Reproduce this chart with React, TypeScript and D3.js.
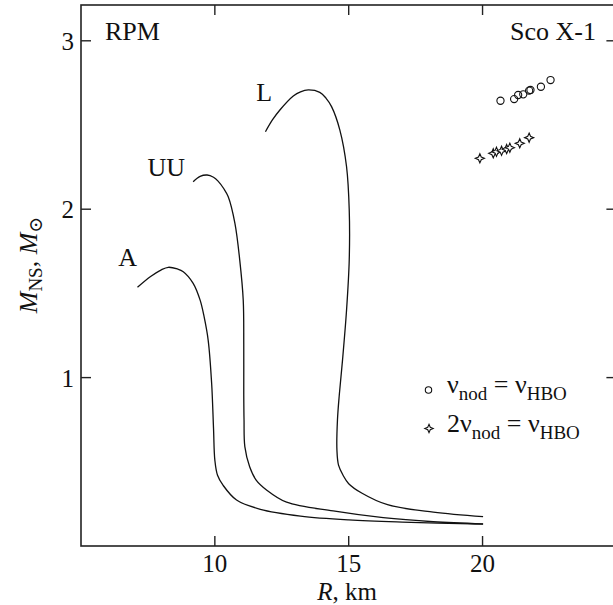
import React from 'react';
import * as d3 from 'd3';

const xTicks = [10, 15, 20];
const yTicks = [1, 2, 3];

const curveA_R = [7.11, 7.6, 8.0, 8.26, 8.6, 8.82, 9.19, 9.45, 9.6, 9.75, 9.88, 9.95, 10.0, 10.1, 10.31, 10.81, 11.7, 13.2, 15.0, 17.0, 20.02];
const curveA_M = [1.536, 1.6, 1.64, 1.655, 1.645, 1.629, 1.56, 1.46, 1.36, 1.223, 0.966, 0.7, 0.51, 0.42, 0.36, 0.273, 0.218, 0.178, 0.155, 0.142, 0.13];

const curveUU_R = [9.19, 9.45, 9.71, 9.95, 10.12, 10.33, 10.5, 10.75, 10.93, 11.06, 11.08, 11.08, 11.09, 11.12, 11.3, 11.55, 11.93, 12.68, 14.42, 16.29, 18.16, 20.02];
const curveUU_M = [2.163, 2.195, 2.203, 2.19, 2.167, 2.123, 2.074, 1.916, 1.698, 1.461, 1.2, 0.9, 0.75, 0.59, 0.471, 0.39, 0.333, 0.26, 0.208, 0.168, 0.144, 0.131];

const curveL_R = [11.89, 12.15, 12.43, 12.93, 13.2, 13.49, 13.92, 14.15, 14.36, 14.67, 14.92, 15.02, 15.02, 14.92, 14.77, 14.65, 14.58, 14.56, 14.62, 14.79, 15.0, 15.5, 16.45, 18.16, 20.02];
const curveL_M = [2.46, 2.53, 2.589, 2.672, 2.697, 2.708, 2.694, 2.66, 2.609, 2.47, 2.252, 1.995, 1.698, 1.401, 1.105, 0.9, 0.748, 0.57, 0.48, 0.42, 0.37, 0.313, 0.245, 0.201, 0.174];

const circleR = [20.67, 21.18, 21.33, 21.52, 21.74, 21.79, 22.18, 22.54];
const circleM = [2.644, 2.654, 2.678, 2.682, 2.704, 2.708, 2.727, 2.767];

const starR = [19.9, 20.4, 20.52, 20.71, 20.9, 21.02, 21.39, 21.74];
const starM = [2.302, 2.332, 2.341, 2.347, 2.357, 2.365, 2.391, 2.425];

const curveLabels = [
  { text: 'A', R: 6.39, M: 1.66 },
  { text: 'UU', R: 7.48, M: 2.2 },
  { text: 'L', R: 11.55, M: 2.64 },
];

const FONT = '"Liberation Serif", "Times New Roman", "DejaVu Serif", serif';

function starPath(cx: number, cy: number, r: number) {
  const w = r * 0.3;
  const pts: [number, number][] = [
    [0, -r], [w, -w], [r, 0], [w, w], [0, r], [-w, w], [-r, 0], [-w, -w],
  ];
  return 'M' + pts.map(p => `${cx + p[0]},${cy + p[1]}`).join('L') + 'Z';
}

export default function App() {
  const x = d3.scaleLinear().domain([5, 25]).range([81, 616.4]);
  const y = d3.scaleLinear().domain([0, 3]).range([546, 40.8]);
  const top = 5;
  const left = x(5);
  const right = x(25);
  const bottom = y(0);

  const line = d3
    .line<[number, number]>()
    .x(d => x(d[0]))
    .y(d => y(d[1]))
    .curve(d3.curveCatmullRom.alpha(0.5));

  const curves = [
    curveA_R.map((r, i) => [r, curveA_M[i]] as [number, number]),
    curveUU_R.map((r, i) => [r, curveUU_M[i]] as [number, number]),
    curveL_R.map((r, i) => [r, curveL_M[i]] as [number, number]),
  ];

  const tickLen = 10;

  return (
    <svg
      width={613}
      height={605}
      style={{ position: 'absolute', left: 0, top: 0, background: '#fff' }}
      fontFamily={FONT}
    >
      <rect x={0} y={0} width={613} height={605} fill="#fff" />
      {/* frame */}
      <rect x={left} y={top} width={right - left} height={bottom - top} fill="none" stroke="#222" strokeWidth={1.6} />
      {/* x ticks */}
      {xTicks.map(t => (
        <g key={'xt' + t}>
          <line x1={x(t)} x2={x(t)} y1={bottom} y2={bottom - tickLen} stroke="#222" strokeWidth={1.4} />
          <line x1={x(t)} x2={x(t)} y1={top} y2={top + tickLen} stroke="#222" strokeWidth={1.4} />
          <text x={x(t)} y={572} textAnchor="middle" fontSize={25} fill="#111">{t}</text>
        </g>
      ))}
      {/* y ticks */}
      {yTicks.map(t => (
        <g key={'yt' + t}>
          <line x1={left} x2={left + tickLen} y1={y(t)} y2={y(t)} stroke="#222" strokeWidth={1.4} />
          <line x1={right} x2={right - tickLen} y1={y(t)} y2={y(t)} stroke="#222" strokeWidth={1.4} />
          <text x={74} y={y(t) + 9} textAnchor="end" fontSize={25} fill="#111">{t}</text>
        </g>
      ))}
      {/* axis titles */}
      <text x={347} y={600} textAnchor="middle" fontSize={25} fill="#111" style={{ whiteSpace: 'pre' }}>
        <tspan fontStyle="italic">R</tspan>, km
      </text>
      <text
        transform="translate(37,265) rotate(-90)"
        textAnchor="middle"
        fontSize={26}
        fill="#111"
        style={{ whiteSpace: 'pre' }}
      >
        <tspan fontStyle="italic">M</tspan>
        <tspan fontSize={19} dy={5}>NS</tspan>
        <tspan dy={-5}>, </tspan>
        <tspan fontStyle="italic">M</tspan>
        <tspan fontSize={19} dy={5}>⊙</tspan>
      </text>
      {/* corner labels */}
      <text x={105} y={40} fontSize={26} fill="#111">RPM</text>
      <text x={510} y={40} fontSize={26} fill="#111">Sco X-1</text>
      {/* curves */}
      {curves.map((c, i) => (
        <path key={'c' + i} d={line(c) || ''} fill="none" stroke="#111" strokeWidth={1.3} />
      ))}
      {curveLabels.map(l => (
        <text key={l.text} x={x(l.R)} y={y(l.M)} fontSize={26} fill="#111">{l.text}</text>
      ))}
      {/* points */}
      {circleR.map((r, i) => (
        <circle key={'ci' + i} cx={x(r)} cy={y(circleM[i])} r={3.6} fill="none" stroke="#111" strokeWidth={1.1} />
      ))}
      {starR.map((r, i) => (
        <path key={'st' + i} d={starPath(x(r), y(starM[i]), 4.6)} fill="#fff" stroke="#111" strokeWidth={1.1} />
      ))}
      {/* legend */}
      <circle cx={428.5} cy={390} r={3.2} fill="none" stroke="#111" strokeWidth={1.1} />
      <text x={447} y={393} fontSize={26} fill="#111" style={{ whiteSpace: 'pre' }}>
        ν<tspan fontSize={19} dy={7}>nod</tspan>
        <tspan dy={-7}> = ν</tspan>
        <tspan fontSize={19} dy={7}>HBO</tspan>
      </text>
      <path d={starPath(429, 428.5, 4.2)} fill="#fff" stroke="#111" strokeWidth={1.1} />
      <text x={447} y={432} fontSize={26} fill="#111" style={{ whiteSpace: 'pre' }}>
        2ν<tspan fontSize={19} dy={7}>nod</tspan>
        <tspan dy={-7}> = ν</tspan>
        <tspan fontSize={19} dy={7}>HBO</tspan>
      </text>
    </svg>
  );
}
